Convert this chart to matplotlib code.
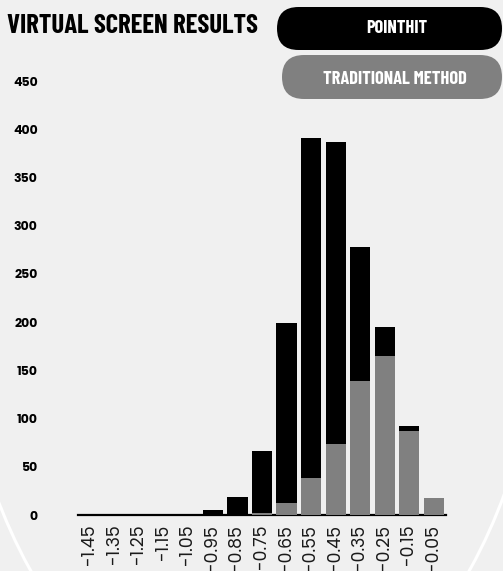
import matplotlib
matplotlib.use("Agg")
import matplotlib.pyplot as plt
from matplotlib.patches import FancyBboxPatch, Ellipse
import numpy as np

bins = ['-1.45', '-1.35', '-1.25', '-1.15', '-1.05', '-0.95', '-0.85', '-0.75',
        '-0.65', '-0.55', '-0.45', '-0.35', '-0.25', '-0.15', '-0.05']
pointhit = [0, 0, 0, 0, 1, 5, 19, 66, 199, 391, 387, 278, 195, 92, 0]
traditional = [0, 0, 0, 0, 0, 0, 0, 2, 12, 38, 74, 139, 165, 87, 18]
yticks = [0, 50, 100, 150, 200, 250, 300, 350, 400, 450]

BG = '#f0f0f0'
GRAY = '#808080'
COND = ['Barlow Condensed', 'Bebas Neue', 'DejaVu Sans']
SANS = ['Poppins', 'DejaVu Sans']

fig = plt.figure(figsize=(5.03, 5.71), dpi=100, facecolor=BG)

# background white ellipse outline
ell = Ellipse((2.50, 3.30), 5.95, 9.76, transform=fig.dpi_scale_trans,
              fill=False, edgecolor='white', lw=2.2, zorder=0)
fig.patches.append(ell)

ax = fig.add_axes([78/503, 1 - 515/571, (446-78)/503, (515-81)/571])
ax.set_facecolor('none')
x = np.arange(len(bins))
ax.bar(x, pointhit, width=0.82, color='black', zorder=2)
ax.bar(x, traditional, width=0.82, color=GRAY, zorder=3)

ax.set_xlim(-0.5, len(bins) - 0.5)
ax.set_ylim(0, 450)
ax.set_yticks(yticks)
ax.set_yticklabels([str(v) for v in yticks], fontsize=9, fontweight='bold',
                   family=SANS)
ax.set_xticks(x)
ax.set_xticklabels(bins, rotation=90, fontsize=12.5, color='#1a1a1a',
                   family=SANS, fontweight='normal')
ax.tick_params(axis='y', length=0, pad=29)
ax.tick_params(axis='x', length=0, pad=7)
for s in ['top', 'right', 'left']:
    ax.spines[s].set_visible(False)
ax.spines['bottom'].set_linewidth(1.6)
ax.spines['bottom'].set_color('black')

# title
fig.text(7/503, 1 - 33/571, 'VIRTUAL SCREEN RESULTS', family=COND,
         fontweight='bold', fontsize=19.3, color='black', ha='left',
         va='baseline')

# legend pills
p1 = FancyBboxPatch((2.77, 5.21), 2.25, 0.43,
                    boxstyle='round,pad=0,rounding_size=0.215',
                    transform=fig.dpi_scale_trans, facecolor='black',
                    edgecolor='none', zorder=1)
p2 = FancyBboxPatch((2.82, 4.72), 2.20, 0.44,
                    boxstyle='round,pad=0,rounding_size=0.22',
                    transform=fig.dpi_scale_trans, facecolor=GRAY,
                    edgecolor='none', zorder=1)
fig.patches.extend([p1, p2])
fig.text(397/503, 1 - 33.3/571, 'POINTHIT', family=COND, fontweight='bold',
         fontsize=13.3, color='white', ha='center', va='baseline')
fig.text(395/503, 1 - 84/571, 'TRADITIONAL METHOD', family=COND,
         fontweight='bold', fontsize=13.3, color='white', ha='center',
         va='baseline')

fig.savefig('out.png', dpi=100, facecolor=BG)
